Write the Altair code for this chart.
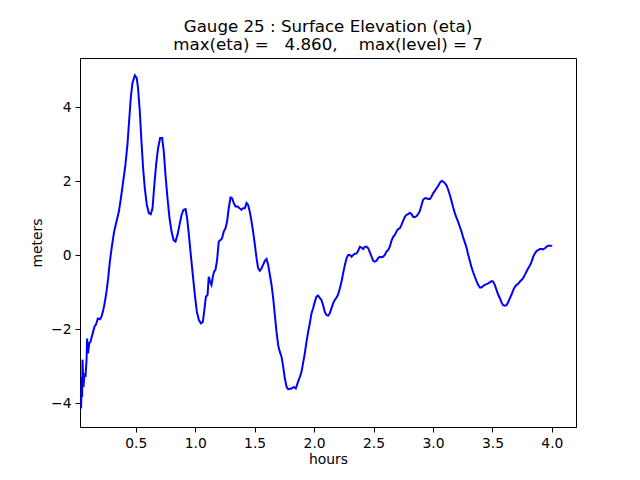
import altair as alt
import pandas as pd

hours = [0.040, 0.046, 0.049, 0.052, 0.060, 0.069, 0.077, 0.086, 0.091, 0.099, 0.108, 0.119, 0.130, 0.141,
         0.153, 0.167, 0.181, 0.198, 0.209, 0.223, 0.237, 0.254, 0.268, 0.282, 0.301, 0.318, 0.335, 0.358,
         0.375, 0.394, 0.413, 0.430, 0.444, 0.458, 0.472, 0.492, 0.508, 0.519, 0.534, 0.548, 0.562, 0.576,
         0.593, 0.610, 0.626, 0.641, 0.654, 0.671, 0.688, 0.705, 0.722, 0.736, 0.750, 0.767, 0.784, 0.801,
         0.818, 0.834, 0.851, 0.868, 0.885, 0.902, 0.919, 0.932, 0.947, 0.963, 0.980, 0.997, 1.014, 1.031,
         1.048, 1.064, 1.075, 1.090, 1.104, 1.114, 1.125, 1.137, 1.148, 1.159, 1.170, 1.184, 1.198, 1.213,
         1.226, 1.240, 1.255, 1.268, 1.282, 1.297, 1.310, 1.325, 1.339, 1.356, 1.373, 1.389, 1.403, 1.417,
         1.432, 1.445, 1.459, 1.474, 1.487, 1.502, 1.516, 1.529, 1.544, 1.558, 1.571, 1.586, 1.600, 1.614,
         1.628, 1.642, 1.656, 1.670, 1.684, 1.698, 1.712, 1.726, 1.740, 1.754, 1.769, 1.782, 1.810, 1.829,
         1.846, 1.865, 1.880, 1.894, 1.907, 1.922, 1.936, 1.950, 1.964, 1.978, 1.992, 2.006, 2.020, 2.034,
         2.048, 2.062, 2.076, 2.090, 2.105, 2.118, 2.132, 2.147, 2.160, 2.174, 2.189, 2.202, 2.217, 2.231,
         2.244, 2.259, 2.273, 2.287, 2.301, 2.315, 2.329, 2.343, 2.357, 2.371, 2.385, 2.399, 2.413, 2.427,
         2.442, 2.455, 2.469, 2.484, 2.497, 2.510, 2.525, 2.538, 2.553, 2.567, 2.580, 2.595, 2.609, 2.623,
         2.637, 2.651, 2.665, 2.679, 2.693, 2.707, 2.721, 2.735, 2.749, 2.763, 2.778, 2.791, 2.805, 2.820,
         2.833, 2.847, 2.862, 2.875, 2.890, 2.904, 2.917, 2.932, 2.946, 2.960, 2.974, 2.988, 3.002, 3.016,
         3.030, 3.044, 3.058, 3.072, 3.086, 3.100, 3.115, 3.128, 3.142, 3.157, 3.170, 3.184, 3.199, 3.211,
         3.226, 3.240, 3.253, 3.268, 3.282, 3.295, 3.310, 3.324, 3.338, 3.352, 3.366, 3.380, 3.394, 3.408,
         3.422, 3.436, 3.451, 3.464, 3.478, 3.493, 3.506, 3.520, 3.535, 3.548, 3.563, 3.577, 3.590, 3.605,
         3.619, 3.632, 3.647, 3.661, 3.675, 3.689, 3.703, 3.717, 3.731, 3.745, 3.759, 3.773, 3.787, 3.801,
         3.815, 3.830, 3.843, 3.857, 3.872, 3.885, 3.899, 3.913, 3.926, 3.941, 3.955, 3.968, 3.983, 3.997,
         4.000]

eta = [-4.14, -3.29, -3.83, -2.82, -3.56, -3.19, -3.29, -2.83, -2.25, -2.65, -2.38, -2.34, -2.20, -2.07,
       -1.93, -1.86, -1.71, -1.73, -1.68, -1.53, -1.32, -0.98, -0.62, -0.17, 0.28, 0.64, 0.87, 1.18,
       1.54, 1.99, 2.44, 2.99, 3.62, 4.25, 4.65, 4.86, 4.79, 4.52, 3.89, 3.07, 2.35, 1.81,
       1.36, 1.14, 1.11, 1.27, 1.81, 2.44, 2.90, 3.17, 3.17, 2.80, 2.17, 1.54, 1.00, 0.64,
       0.41, 0.37, 0.55, 0.82, 1.09, 1.23, 1.25, 1.00, 0.55, 0.01, -0.53, -1.07, -1.53, -1.75,
       -1.84, -1.80, -1.53, -1.12, -1.07, -0.58, -0.71, -0.80, -0.58, -0.44, -0.40, -0.13, 0.37, 0.41,
       0.46, 0.64, 0.73, 0.91, 1.27, 1.56, 1.54, 1.41, 1.32, 1.32, 1.27, 1.23, 1.27, 1.27,
       1.41, 1.36, 1.18, 0.91, 0.64, 0.28, -0.08, -0.35, -0.42, -0.35, -0.26, -0.15, -0.10, -0.26,
       -0.53, -0.80, -1.16, -1.62, -2.07, -2.43, -2.61, -2.74, -3.01, -3.33, -3.56, -3.62, -3.60, -3.56,
       -3.60, -3.42, -3.29, -3.15, -2.92, -2.65, -2.34, -2.07, -1.84, -1.57, -1.43, -1.26, -1.12, -1.09,
       -1.15, -1.21, -1.35, -1.53, -1.62, -1.63, -1.57, -1.43, -1.30, -1.21, -1.14, -1.06, -0.89, -0.71,
       -0.49, -0.26, -0.08, 0.01, 0.01, -0.04, 0.01, 0.04, 0.05, 0.12, 0.23, 0.21, 0.17, 0.23,
       0.23, 0.19, 0.08, -0.04, -0.15, -0.17, -0.15, -0.08, -0.04, -0.05, -0.04, 0.01, 0.10, 0.14,
       0.23, 0.39, 0.50, 0.55, 0.64, 0.71, 0.73, 0.82, 0.93, 1.04, 1.09, 1.11, 1.15, 1.11,
       1.04, 1.03, 1.06, 1.11, 1.20, 1.36, 1.50, 1.54, 1.54, 1.52, 1.52, 1.59, 1.68, 1.74,
       1.81, 1.88, 1.96, 2.01, 1.99, 1.95, 1.88, 1.77, 1.63, 1.45, 1.29, 1.14, 1.00, 0.91,
       0.77, 0.64, 0.49, 0.35, 0.21, 0.03, -0.15, -0.32, -0.46, -0.58, -0.70, -0.80, -0.87, -0.87,
       -0.83, -0.80, -0.78, -0.76, -0.73, -0.70, -0.71, -0.80, -0.94, -1.06, -1.16, -1.28, -1.35, -1.36,
       -1.35, -1.27, -1.16, -1.06, -0.94, -0.85, -0.80, -0.77, -0.71, -0.67, -0.61, -0.53, -0.44, -0.35,
       -0.28, -0.17, -0.04, 0.05, 0.12, 0.14, 0.17, 0.17, 0.16, 0.19, 0.23, 0.26, 0.26, 0.25,
       0.24]

x_ticks = [0.5, 1.0, 1.5, 2.0, 2.5, 3.0, 3.5, 4.0]
y_ticks = [-4, -2, 0, 2, 4]
title_lines = ["Gauge 25 : Surface Elevation (eta)",
               "max(eta) =\u00a0\u00a0 4.860,\u00a0\u00a0\u00a0 max(level) = 7"]

df = pd.DataFrame({"hours": hours, "eta": eta})

FONT = "DejaVu Sans"

chart = alt.Chart(df).mark_line(color="#0000ff", strokeWidth=2).encode(
    x=alt.X("hours:Q", title="hours",
            scale=alt.Scale(domain=[0.031, 4.203], nice=False, zero=False),
            axis=alt.Axis(values=x_ticks, format=".1f")),
    y=alt.Y("eta:Q", title="meters",
            scale=alt.Scale(domain=[-4.64, 5.33], nice=False, zero=False),
            axis=alt.Axis(values=y_ticks, format="d")),
).properties(
    width=496, height=369,
    title=alt.TitleParams(text=title_lines, font=FONT, fontSize=16.67, fontWeight="normal",
                          color="black", anchor="middle", offset=4, lineHeight=18),
    autosize=alt.AutoSizeParams(type="none"),
    padding={"left": 72, "top": 50, "right": 56, "bottom": 45},
).configure_view(
    stroke="black", strokeWidth=1
).configure_axis(
    grid=False, domainColor="black", domainWidth=1, tickColor="black", tickWidth=1, tickSize=5,
    labelFont=FONT, labelFontSize=13.89, labelColor="black", labelPadding=4,
    titleFont=FONT, titleFontSize=13.89, titleFontWeight="normal", titleColor="black",
).configure_axisX(titlePadding=3).configure_axisY(titlePadding=6)

chart.save("out.html", embed_options={"renderer": "svg", "actions": False})
